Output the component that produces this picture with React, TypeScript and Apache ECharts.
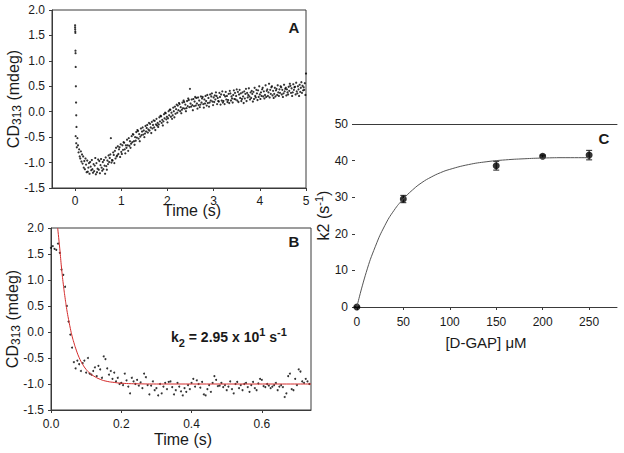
import React, { useEffect, useRef } from 'react';
import * as echarts from 'echarts';

const FONT = '"Liberation Sans", Arial, sans-serif';
const INK = '#1a1a1a';
const AXIS = '#3a3a3a';

// ---------- Panel A: CD313 vs time (0-5 s) ----------
const earlyA: number[][] = [
  [0, 1.7], [0, 1.66], [0.002, 1.62], [0.004, 1.58], [0.006, 1.55], [0.008, 1.2],
  [0.01, 1.15], [0.013, 0.88], [0.017, 0.5], [0.021, 0.18], [0.025, -0.07], [0.03, -0.3],
];
// [end time of a 0.05 s window, four samples read inside that window]
const rowsA: number[][] = [
  [0.05, -0.48, -0.62, -0.7, -0.52], [0.1, -0.66, -0.8, -0.74, -0.88], [0.15, -0.92, -0.78, -0.98, -0.84],
  [0.2, -1.02, -0.88, -1.1, -0.97], [0.25, -1.13, -0.92, -1.04, -1.19], [0.3, -0.96, -1.18, -1.1, -1.01],
  [0.35, -1.22, -0.99, -1.08, -1.15], [0.4, -0.95, -1.13, -1.2, -1.03], [0.45, -1.17, -1.06, -0.91, -1.23],
  [0.5, -1.01, -1.19, -1.12, -0.94], [0.55, -1.14, -0.97, -1.21, -1.05], [0.6, -0.93, -1.1, -1.16, -0.99],
  [0.65, -1.13, -0.95, -1.06, -1.22], [0.7, -0.9, -1.07, -1.14, -0.96], [0.75, -1.03, -0.86, -0.99, -0.91],
  [0.8, -0.84, -0.52, -1.0, -0.95], [0.85, -0.96, -0.8, -0.85, -1.01], [0.9, -0.77, -0.92, -0.71, -0.88],
  [0.95, -0.86, -0.68, -0.83, -0.74], [1.0, -0.7, -0.89, -0.64, -0.79], [1.05, -0.83, -0.66, -0.75, -0.6],
  [1.1, -0.61, -0.74, -0.82, -0.66], [1.15, -0.71, -0.55, -0.66, -0.77], [1.2, -0.52, -0.67, -0.58, -0.71],
  [1.25, -0.63, -0.48, -0.6, -0.44], [1.3, -0.45, -0.58, -0.65, -0.5], [1.35, -0.57, -0.4, -0.51, -0.36],
  [1.4, -0.38, -0.53, -0.44, -0.58], [1.45, -0.49, -0.33, -0.46, -0.39], [1.5, -0.31, -0.45, -0.37, -0.5],
  [1.55, -0.43, -0.28, -0.39, -0.32], [1.6, -0.26, -0.41, -0.35, -0.22], [1.65, -0.37, -0.24, -0.31, -0.42],
  [1.7, -0.2, -0.33, -0.26, -0.17], [1.75, -0.31, -0.18, -0.36, -0.25], [1.8, -0.14, -0.27, -0.22, -0.3],
  [1.85, -0.25, -0.11, -0.19, -0.08], [1.9, -0.09, -0.22, -0.16, -0.27], [1.95, -0.19, -0.05, -0.13, -0.02],
  [2.0, -0.03, -0.15, -0.1, -0.21], [2.05, -0.13, 0.01, -0.07, 0.04], [2.1, 0.04, -0.1, -0.02, -0.14],
  [2.15, -0.07, 0.08, 0.01, -0.11], [2.2, 0.1, -0.04, 0.05, 0.14], [2.25, -0.02, 0.12, 0.03, 0.17],
  [2.3, 0.15, 0.01, 0.09, -0.03], [2.35, 0.04, 0.18, 0.07, 0.22], [2.4, 0.19, 0.06, 0.14, 0.01],
  [2.45, 0.07, 0.21, 0.11, 0.26], [2.5, 0.23, 0.09, 0.45, 0.16], [2.55, 0.1, 0.24, 0.13, 0.03],
  [2.6, 0.25, 0.11, 0.2, 0.29], [2.65, 0.12, 0.27, 0.16, 0.06], [2.7, 0.28, 0.13, 0.22, 0.09],
  [2.75, 0.14, 0.3, 0.18, 0.26], [2.8, 0.29, 0.15, 0.08, 0.24], [2.85, 0.16, 0.31, 0.21, 0.12],
  [2.9, 0.33, 0.17, 0.27, 0.1], [2.95, 0.18, 0.34, 0.22, 0.3], [3.0, 0.36, 0.2, 0.13, 0.28],
  [3.05, 0.19, 0.32, 0.24, 0.38], [3.1, 0.31, 0.15, 0.27, 0.21], [3.15, 0.2, 0.37, 0.29, 0.14],
  [3.2, 0.34, 0.22, 0.4, 0.18], [3.25, 0.21, 0.33, 0.15, 0.3], [3.3, 0.39, 0.24, 0.31, 0.19],
  [3.35, 0.23, 0.35, 0.17, 0.41], [3.4, 0.36, 0.22, 0.3, 0.26], [3.45, 0.18, 0.33, 0.42, 0.25],
  [3.5, 0.37, 0.24, 0.31, 0.44], [3.55, 0.22, 0.39, 0.19, 0.34], [3.6, 0.43, 0.27, 0.36, 0.21],
  [3.65, 0.25, 0.38, 0.3, 0.17], [3.7, 0.4, 0.26, 0.35, 0.45], [3.75, 0.21, 0.37, 0.28, 0.33],
  [3.8, 0.46, 0.3, 0.24, 0.38], [3.85, 0.27, 0.41, 0.35, 0.2], [3.9, 0.39, 0.25, 0.47, 0.31],
  [3.95, 0.28, 0.43, 0.36, 0.23], [4.0, 0.42, 0.29, 0.5, 0.34], [4.05, 0.25, 0.38, 0.31, 0.44],
  [4.1, 0.47, 0.3, 0.4, 0.26], [4.15, 0.33, 0.52, 0.29, 0.41], [4.2, 0.44, 0.31, 0.38, 0.55],
  [4.25, 0.28, 0.43, 0.35, 0.48], [4.3, 0.5, 0.32, 0.41, 0.27], [4.35, 0.35, 0.47, 0.3, 0.42],
  [4.4, 0.45, 0.33, 0.52, 0.38], [4.45, 0.31, 0.44, 0.37, 0.5], [4.5, 0.48, 0.34, 0.43, 0.29],
  [4.55, 0.36, 0.53, 0.4, 0.45], [4.6, 0.47, 0.32, 0.44, 0.38], [4.65, 0.34, 0.49, 0.41, 0.55],
  [4.7, 0.51, 0.37, 0.46, 0.31], [4.75, 0.38, 0.54, 0.43, 0.48], [4.8, 0.49, 0.34, 0.57, 0.4],
  [4.85, 0.36, 0.5, 0.44, 0.31], [4.9, 0.53, 0.39, 0.47, 0.58], [4.95, 0.37, 0.51, 0.42, 0.48],
  [5.0, 0.43, 0.56, 0.33, 0.75],
];
const ticksA = [0, 1, 2, 3, 4, 5];

// ---------- Panel B: CD313 vs time (0-0.74 s) with fit ----------
const pointsB: number[][] = [
  [0, 1.62], [0.005, 1.65], [0.01, 1.6], [0.015, 1.58], [0.02, 1.7], [0.025, 1.52], [0.03, 1.2],
  [0.035, 1.1], [0.04, 0.87], [0.045, 0.5], [0.05, 0.2], [0.055, -0.05], [0.06, -0.3], [0.065, -0.58],
  [0.07, -0.7], [0.075, -0.55], [0.08, -0.62], [0.085, -0.75], [0.09, -0.6], [0.095, -0.55],
  [0.1, -0.78], [0.105, -0.5], [0.11, -0.8], [0.115, -0.82], [0.12, -0.75], [0.125, -0.68],
  [0.13, -0.85], [0.135, -0.65], [0.14, -0.72], [0.145, -0.88], [0.15, -0.47], [0.155, -0.52],
  [0.16, -0.7], [0.165, -0.82], [0.17, -0.75], [0.175, -0.9], [0.18, -0.78], [0.185, -0.95],
  [0.19, -0.88], [0.195, -1.0], [0.2, -0.98], [0.205, -1.02], [0.21, -0.8], [0.215, -0.93],
  [0.22, -1.05], [0.225, -1.18], [0.23, -0.88], [0.235, -0.95], [0.24, -1.0], [0.245, -0.92],
  [0.25, -1.03], [0.255, -0.97], [0.26, -1.08], [0.265, -0.8], [0.27, -0.87], [0.275, -1.02],
  [0.28, -1.2], [0.285, -1.03], [0.29, -0.95], [0.295, -1.12], [0.3, -1.08], [0.305, -1.22],
  [0.31, -1.0], [0.315, -1.18], [0.32, -1.05], [0.325, -0.98], [0.33, -1.1], [0.335, -0.96],
  [0.34, -0.95], [0.345, -1.06], [0.35, -1.2], [0.355, -1.12], [0.36, -0.98], [0.365, -1.05],
  [0.37, -1.14], [0.375, -1.22], [0.38, -1.08], [0.385, -1.15], [0.39, -1.02], [0.395, -1.1],
  [0.4, -0.98], [0.405, -0.9], [0.41, -1.05], [0.415, -0.93], [0.42, -1.0], [0.425, -1.07],
  [0.43, -0.96], [0.435, -1.2], [0.44, -1.22], [0.445, -1.1], [0.45, -1.02], [0.455, -1.15],
  [0.46, -0.98], [0.465, -0.85], [0.47, -0.92], [0.475, -1.04], [0.48, -1.03], [0.485, -0.98],
  [0.49, -1.06], [0.495, -1.02], [0.5, -1.12], [0.505, -1.05], [0.51, -0.95], [0.515, -1.1],
  [0.52, -1.18], [0.525, -1.0], [0.53, -0.96], [0.535, -1.08], [0.54, -1.02], [0.545, -1.12],
  [0.55, -1.0], [0.555, -0.98], [0.56, -1.06], [0.565, -1.15], [0.57, -1.02], [0.575, -0.96],
  [0.58, -1.08], [0.585, -1.12], [0.59, -0.99], [0.595, -0.9], [0.6, -0.92], [0.605, -1.04],
  [0.61, -1.06], [0.615, -1.0], [0.62, -1.03], [0.625, -1.08], [0.63, -1.05], [0.635, -1.02],
  [0.64, -0.98], [0.645, -1.12], [0.65, -1.05], [0.655, -1.02], [0.66, -1.06], [0.665, -1.25],
  [0.67, -1.18], [0.675, -0.85], [0.68, -0.8], [0.685, -1.1], [0.69, -1.12], [0.695, -0.9],
  [0.7, -1.02], [0.705, -0.72], [0.71, -0.76], [0.715, -0.95], [0.72, -0.98], [0.725, -0.9],
  [0.73, -0.95], [0.735, -1.0],
];
const fitB: number[][] = [
  [0.019, 2.0], [0.025, 1.6], [0.03, 1.23], [0.035, 0.92], [0.04, 0.66], [0.045, 0.43],
  [0.05, 0.24], [0.055, 0.07], [0.06, -0.08], [0.065, -0.2], [0.07, -0.31], [0.08, -0.49],
  [0.09, -0.62], [0.1, -0.72], [0.11, -0.79], [0.12, -0.84], [0.14, -0.91], [0.16, -0.95],
  [0.18, -0.97], [0.2, -0.985], [0.25, -0.997], [0.3, -1.0], [0.74, -1.0],
];
const ticksB = [0, 0.2, 0.4, 0.6];

// ---------- Panel C: k2 vs [D-GAP] ----------
const concC = [0, 50, 150, 200, 250];
const rateC = [0, 29.5, 38.6, 41.2, 41.5];
const errC = [0, 1.0, 1.2, 0.3, 1.3];
const fitCX = [0, 10, 20, 30, 40, 50, 60, 70, 80, 90, 100, 120, 140, 160, 180, 200, 225, 250];
const fitCY = [0, 9.4, 16.6, 22.2, 26.4, 29.5, 32, 34, 35.5, 36.7, 37.6, 38.9, 39.7, 40.2, 40.5, 40.7, 40.8, 40.8];
const ticksC = [0, 50, 100, 150, 200, 250];

const labelStyle = { color: INK, fontFamily: FONT, fontSize: 12 };
const nameBase = { color: INK, fontFamily: FONT, fontSize: 16 };
const cdRich = {
  a: { fontFamily: FONT, fontSize: 16, color: INK, lineHeight: 20, verticalAlign: 'middle' },
  s: { fontFamily: FONT, fontSize: 12, color: INK, lineHeight: 12, verticalAlign: 'bottom' },
};

export default function App() {
  const ref = useRef<HTMLDivElement>(null);
  useEffect(() => {
    if (!ref.current) return;
    const chart = echarts.init(ref.current, null, { renderer: 'svg' });

    const dataA: number[][] = [...earlyA];
    rowsA.forEach(([t, a, b, c, d]) => {
      dataA.push([t - 0.0375, a], [t - 0.025, b], [t - 0.0125, c], [t, d]);
    });

    const yValueAxis = (gridIndex: number) => ({
      gridIndex,
      type: 'value',
      min: -1.5,
      max: 2,
      interval: 0.5,
      axisLine: { show: true, onZero: false, lineStyle: { color: AXIS } },
      axisTick: { show: true, length: 3, lineStyle: { color: AXIS } },
      axisLabel: { ...labelStyle, margin: 7, formatter: (v: number) => v.toFixed(1) },
      splitLine: { show: false },
      name: '{a|CD}{s|313}{a| (mdeg)}',
      nameLocation: 'middle',
      nameGap: 29,
      nameMoveOverlap: false,
      nameTextStyle: { ...nameBase, rich: cdRich },
    });

    const option: any = {
      animation: false,
      backgroundColor: '#ffffff',
      grid: [
        { left: 52, top: 10, width: 254, height: 178, show: true, borderColor: AXIS, borderWidth: 1, backgroundColor: 'transparent' },
        { left: 51, top: 228, width: 260, height: 182, show: true, borderColor: AXIS, borderWidth: 1, backgroundColor: 'transparent' },
        { left: 355, top: 124, width: 262, height: 183 },
      ],
      xAxis: [
        {
          gridIndex: 0, type: 'value', min: -0.5, max: 5,
          axisLine: { show: true, onZero: false, lineStyle: { color: AXIS } },
          axisTick: { show: true, customValues: ticksA, length: 3, lineStyle: { color: AXIS } },
          axisLabel: { ...labelStyle, customValues: ticksA, margin: 7, formatter: (v: number) => String(v) },
          splitLine: { show: false },
          name: 'Time (s)', nameLocation: 'middle', nameGap: 14, nameMoveOverlap: false,
          nameTextStyle: { ...nameBase, padding: [0, 0, 0, 26] },
        },
        {
          gridIndex: 1, type: 'value', min: 0, max: 0.74,
          axisLine: { show: true, onZero: false, lineStyle: { color: AXIS } },
          axisTick: { show: true, customValues: ticksB, length: 3, lineStyle: { color: AXIS } },
          axisLabel: { ...labelStyle, customValues: ticksB, margin: 8, formatter: (v: number) => v.toFixed(1) },
          splitLine: { show: false },
          name: 'Time (s)', nameLocation: 'middle', nameGap: 21, nameMoveOverlap: false,
          nameTextStyle: { ...nameBase, padding: [0, 0, 0, 4] },
        },
        {
          gridIndex: 2, type: 'value', min: -2, max: 280,
          axisLine: { show: true, onZero: false, lineStyle: { color: AXIS } },
          axisTick: { show: true, customValues: ticksC, length: 3, lineStyle: { color: AXIS } },
          axisLabel: { ...labelStyle, customValues: ticksC, margin: 9, formatter: (v: number) => String(v) },
          splitLine: { show: false },
          name: '[D-GAP] \u03bcM', nameLocation: 'middle', nameGap: 28, nameMoveOverlap: false,
          nameTextStyle: { ...nameBase, fontSize: 15 },
        },
        {
          gridIndex: 2, type: 'value', min: -2, max: 280, position: 'top',
          axisLine: { show: true, onZero: false, lineStyle: { color: AXIS } },
          axisTick: { show: false }, axisLabel: { show: false }, splitLine: { show: false },
        },
      ],
      yAxis: [
        yValueAxis(0),
        yValueAxis(1),
        {
          gridIndex: 2, type: 'value', min: 0, max: 50, interval: 10,
          axisLine: { show: false, onZero: false },
          axisTick: { show: true, length: 3, lineStyle: { color: AXIS } },
          axisLabel: { ...labelStyle, margin: 7 },
          splitLine: { show: false },
          name: '{a|k2 (s}{p|-1}{a|)}', nameLocation: 'middle', nameGap: 22, nameMoveOverlap: false,
          nameTextStyle: {
            ...nameBase,
            rich: {
              a: { fontFamily: FONT, fontSize: 16, color: INK, lineHeight: 20, verticalAlign: 'middle' },
              p: { fontFamily: FONT, fontSize: 11, color: INK, lineHeight: 11, verticalAlign: 'top' },
            },
          },
        },
      ],
      series: [
        {
          type: 'scatter', xAxisIndex: 0, yAxisIndex: 0, data: dataA, symbolSize: 2.2,
          itemStyle: { color: '#000' }, silent: true,
        },
        {
          type: 'scatter', xAxisIndex: 1, yAxisIndex: 1, data: pointsB, symbolSize: 2,
          itemStyle: { color: '#000' }, silent: true,
        },
        {
          type: 'line', xAxisIndex: 1, yAxisIndex: 1, data: fitB, showSymbol: false, smooth: true,
          lineStyle: { color: '#d42a2a', width: 1 }, silent: true, clip: true,
        },
        {
          type: 'line', xAxisIndex: 2, yAxisIndex: 2, data: fitCX.map((x, i) => [x, fitCY[i]]),
          showSymbol: false, smooth: true, lineStyle: { color: '#555', width: 1 }, silent: true,
        },
        {
          type: 'custom', xAxisIndex: 2, yAxisIndex: 2, silent: true,
          data: concC.map((x, i) => [x, rateC[i] - errC[i], rateC[i] + errC[i]]),
          renderItem: (_p: any, api: any) => {
            const lo = api.coord([api.value(0), api.value(1)]);
            const hi = api.coord([api.value(0), api.value(2)]);
            const w = 3;
            const st = { stroke: '#222', lineWidth: 1 };
            return {
              type: 'group',
              children: [
                { type: 'line', shape: { x1: lo[0], y1: lo[1], x2: hi[0], y2: hi[1] }, style: st },
                { type: 'line', shape: { x1: lo[0] - w, y1: lo[1], x2: lo[0] + w, y2: lo[1] }, style: st },
                { type: 'line', shape: { x1: hi[0] - w, y1: hi[1], x2: hi[0] + w, y2: hi[1] }, style: st },
              ],
            };
          },
        },
        {
          type: 'scatter', xAxisIndex: 2, yAxisIndex: 2, data: concC.map((x, i) => [x, rateC[i]]),
          symbolSize: 7, itemStyle: { color: '#000' }, silent: true,
        },
      ],
      graphic: [
        { type: 'text', x: 294, y: 27, style: { text: 'A', font: `bold 15px ${FONT}`, fill: INK, align: 'center', verticalAlign: 'middle' } },
        { type: 'text', x: 294, y: 241, style: { text: 'B', font: `bold 15px ${FONT}`, fill: INK, align: 'center', verticalAlign: 'middle' } },
        { type: 'text', x: 604, y: 138, style: { text: 'C', font: `bold 15px ${FONT}`, fill: INK, align: 'center', verticalAlign: 'middle' } },
        {
          type: 'text', x: 171, y: 337,
          style: {
            text: '{t|k}{b|2}{t| = 2.95 x 10}{p|1}{t| s}{p|-1}',
            align: 'left', verticalAlign: 'middle',
            rich: {
              t: { fontFamily: FONT, fontSize: 14, fontWeight: 'bold', fill: INK, lineHeight: 22, verticalAlign: 'middle' },
              b: { fontFamily: FONT, fontSize: 11, fontWeight: 'bold', fill: INK, lineHeight: 11, verticalAlign: 'bottom' },
              p: { fontFamily: FONT, fontSize: 11, fontWeight: 'bold', fill: INK, lineHeight: 11, verticalAlign: 'top' },
            },
          },
        },
      ],
    };

    chart.setOption(option);
    return () => chart.dispose();
  }, []);

  return <div ref={ref} style={{ position: 'fixed', left: 0, top: 0, width: 624, height: 453 }} />;
}
